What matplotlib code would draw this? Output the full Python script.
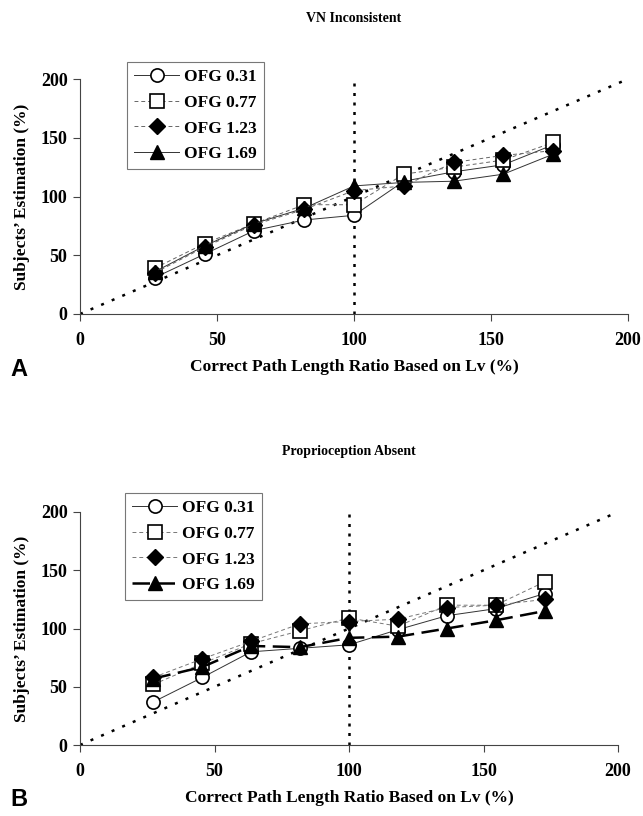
import matplotlib
matplotlib.use("Agg")
import matplotlib.pyplot as plt

x_ratio = [27.3, 45.5, 63.6, 81.8, 100.0, 118.2, 136.4, 154.5, 172.7]
series_labels = ["OFG 0.31", "OFG 0.77", "OFG 1.23", "OFG 1.69"]

# Panel A: VN Inconsistent
a_031 = [31, 51, 71, 80, 84, 113, 121, 127, 144]
a_077 = [39, 60, 77, 93, 93, 119, 125, 131, 146]
a_123 = [35, 57, 76, 89, 105, 109, 129, 135, 139]
a_169 = [36, 58, 77, 90, 109, 112, 113, 119, 136]

# Panel B: Proprioception Absent
b_031 = [37, 58, 80, 83, 86, 99, 111, 117, 130]
b_077 = [52, 70, 87, 98, 109, 102, 120, 120, 140]
b_123 = [58, 74, 89, 104, 106, 108, 118, 120, 125]
b_169 = [57, 67, 85, 84, 92, 93, 100, 107, 115]

ticks = [0, 50, 100, 150, 200]

SERIF = ["Liberation Serif", "DejaVu Serif"]
SANS = ["Liberation Sans", "DejaVu Sans"]

fig = plt.figure(figsize=(6.43, 8.16), dpi=100)
W, H = 643.0, 816.0


def ax_rect(l, r, t, b):
    return [l / W, 1 - b / H, (r - l) / W, (b - t) / H]


def draw_panel(ax, data, styles, title, leg_box):
    ax.plot([0, 200], [0, 200], color="black", lw=1.8, ls=(0, (1.2, 3.4)), zorder=1)
    ax.plot([100, 100], [0, 200], color="black", lw=1.8, ls=(0, (1.2, 2.6)), zorder=1)
    handles = []
    for y, lab, st in zip(data, series_labels, styles):
        ln, = ax.plot(x_ratio, y, label=lab, zorder=3, **st)
        handles.append(ln)
    ax.set_xlim(0, 200)
    ax.set_ylim(0, 200)
    ax.set_xticks(ticks)
    ax.set_yticks(ticks)
    for s in ["top", "right"]:
        ax.spines[s].set_visible(False)
    for s in ["left", "bottom"]:
        ax.spines[s].set_linewidth(0.8)
        ax.spines[s].set_color("#444444")
    ax.tick_params(direction="out", length=5, width=0.8, colors="#444444",
                   labelcolor="black")
    ax.tick_params(axis="x", pad=8)
    ax.tick_params(axis="y", pad=4)
    for lbl in ax.get_xticklabels() + ax.get_yticklabels():
        lbl.set_fontfamily(SERIF)
        lbl.set_fontweight("bold")
        lbl.set_fontsize(13)
    ax.set_xlabel("Correct Path Length Ratio Based on Lv (%)", family=SERIF,
                  fontweight="bold", fontsize=12.5, labelpad=7)
    ax.set_ylabel("Subjects\u2019 Estimation (%)", family=SERIF,
                  fontweight="bold", fontsize=12.5, labelpad=8)
    ax.set_title(title, family=SERIF, fontweight="bold", fontsize=10, pad=41)
    leg = ax.legend(handles=handles, loc="upper left", bbox_to_anchor=leg_box,
                    bbox_transform=fig.transFigure, frameon=True, fancybox=False,
                    prop={"family": SERIF, "weight": "bold", "size": 12.5},
                    handlelength=2.6, handletextpad=0.3, labelspacing=0.55,
                    borderpad=0.4, borderaxespad=0)
    leg.get_frame().set_edgecolor("#555555")
    leg.get_frame().set_linewidth(0.8)
    return ax


ms = 9.5
styles_a = [
    dict(color="#333333", lw=0.7, ls="-", marker="o", ms=ms, mfc="white", mec="black", mew=1.2),
    dict(color="#666666", lw=0.7, ls=(0, (4, 3)), marker="s", ms=ms, mfc="white", mec="black", mew=1.2),
    dict(color="#666666", lw=0.7, ls=(0, (4, 3)), marker="D", ms=8, mfc="black", mec="black", mew=1.0),
    dict(color="#333333", lw=0.7, ls="-", marker="^", ms=ms + 0.5, mfc="black", mec="black", mew=1.0),
]
styles_b = [
    dict(color="#333333", lw=0.7, ls="-", marker="o", ms=ms, mfc="white", mec="black", mew=1.2),
    dict(color="#777777", lw=0.7, ls=(0, (4, 3)), marker="s", ms=ms, mfc="white", mec="black", mew=1.2),
    dict(color="#777777", lw=0.7, ls=(0, (4, 3)), marker="D", ms=8, mfc="black", mec="black", mew=1.0),
    dict(color="black", lw=1.8, ls=(0, (7, 3, 7, 3)), marker="^", ms=ms + 0.5, mfc="black", mec="black", mew=1.0),
]

axA = fig.add_axes(ax_rect(80, 628, 79, 314))
draw_panel(axA, [a_031, a_077, a_123, a_169], styles_a, "VN Inconsistent",
           (127 / W, 1 - 62 / H))
axB = fig.add_axes(ax_rect(80, 618, 512, 745))
draw_panel(axB, [b_031, b_077, b_123, b_169], styles_b, "Proprioception Absent",
           (125 / W, 1 - 493 / H))

fig.text(10 / W, 1 - 370 / H, "A", family=SANS, fontweight="bold", fontsize=17,
         va="center", ha="left")
fig.text(10 / W, 1 - 800 / H, "B", family=SANS, fontweight="bold", fontsize=17,
         va="center", ha="left")

fig.savefig("out.png", dpi=100, facecolor="white")
